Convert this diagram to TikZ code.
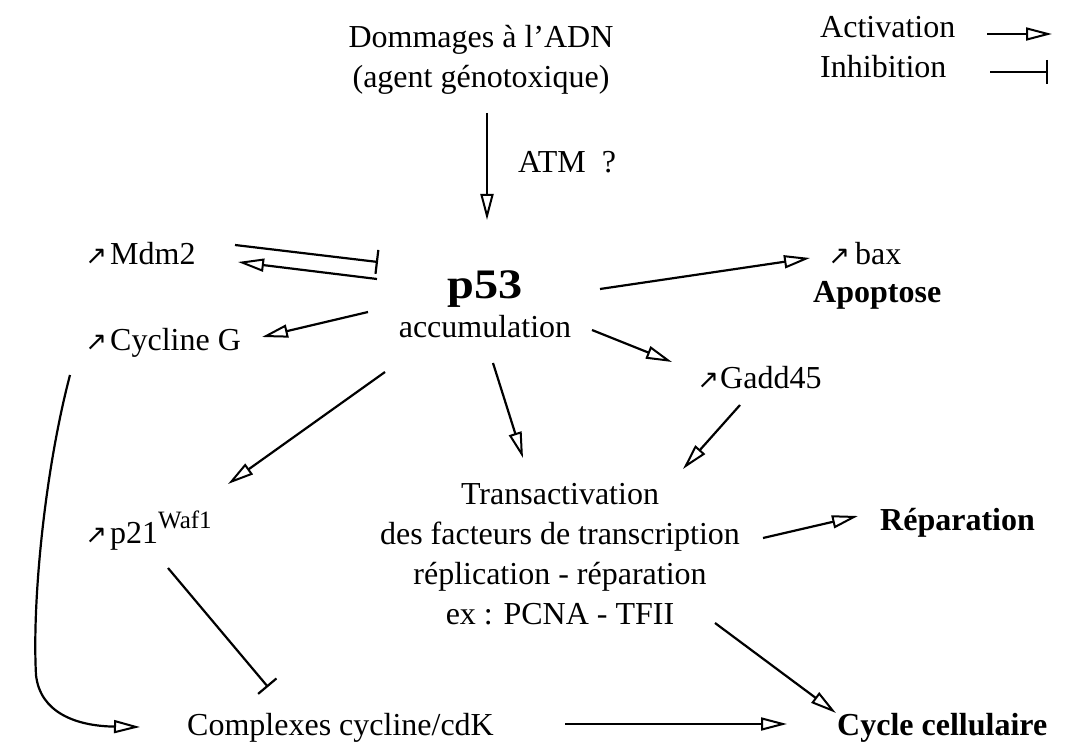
\documentclass[tikz,border=0pt]{standalone}
\usepackage{fontspec}
\usepackage{graphicx}
\setmainfont{Liberation Serif}
\newfontfamily\dejavu{DejaVu Sans}
\usetikzlibrary{arrows.meta}
\newcommand\myne{{\dejavu\fontsize{26}{26}\selectfont ↗}}
\begin{document}
\begin{tikzpicture}[x=1pt,y=-1pt,
  every node/.style={inner sep=0pt, font=\fontsize{32}{40}\selectfont},
  act/.style={line width=2.2pt, -{Triangle[open,length=26pt,width=13pt,line width=2pt]}},
  inh/.style={line width=2.2pt, -{Bar[width=24pt,line width=2.2pt]}},
  bold/.style={font=\fontsize{32}{40}\selectfont\bfseries}]
\useasboundingbox (0,0) rectangle (1067,751);
\fill[white] (0,0) rectangle (1067,751);

% nodes (multi-line nodes: base = baseline of last line)
\node[anchor=base, align=center] (dna) at (481,88) {Dommages à l’ADN\\(agent génotoxique)};
\node[anchor=base west] (atm) at (518,173) {ATM\ \ ?};
\node[anchor=base west] (leg1) at (820,38) {Activation};
\node[anchor=base west] (leg2) at (820,78) {Inhibition};
\node[anchor=base] (p53) at (485,298) {\fontsize{42}{42}\selectfont\bfseries\scalebox{1.15}[1]{p53}};
\node[anchor=base] (acc) at (485,337) {accumulation};
\node[anchor=base west] (mdm) at (110,264) {\llap{\myne\hspace{3pt}}Mdm2};
\node[anchor=base west] (cyg) at (110,350) {\llap{\myne\hspace{3pt}}Cycline G};
\node[anchor=base west] (p21) at (110,543) {\llap{\myne\hspace{3pt}}p21\raisebox{15pt}{\fontsize{25}{25}\selectfont Waf1}};
\node[anchor=base west] (gadd) at (720,388) {\llap{\myne\hspace{1pt}}Gadd45};
\node[anchor=base west] (bax) at (855,265) {\llap{\myne\hspace{5pt}}bax};
\node[anchor=base west, bold] (apo) at (813,302) {Apoptose};
\node[anchor=base, align=center] (trans) at (560,624) {Transactivation\\des facteurs de transcription\\réplication - réparation\\ex : PCNA - TFII};
\node[anchor=base west, bold] (rep) at (880,530) {Réparation};
\node[anchor=base west] (cplx) at (187,735) {Complexes cycline/cdK};
\node[anchor=base west, bold] (cyc) at (837,735) {Cycle cellulaire};

% connector end points
\coordinate (leg1-s) at (987,34);   \coordinate (leg1-e) at (1052,34);
\coordinate (leg2-s) at (990,72);   \coordinate (leg2-e) at (1048,72);
\coordinate (dna-out) at (487,113); \coordinate (p53-in) at (487,220);
\coordinate (mdm-out) at (235,245); \coordinate (p53-bar) at (378,262);
\coordinate (p53-mdm) at (377,279); \coordinate (mdm-in) at (238,262);
\coordinate (p53-cyg) at (368,312); \coordinate (cyg-in) at (262,337);
\coordinate (p53-bax) at (600,289); \coordinate (bax-in) at (810,258);
\coordinate (p53-gadd) at (592,330); \coordinate (gadd-in) at (672,362);
\coordinate (p53-p21) at (385,372); \coordinate (p21-in) at (228,484);
\coordinate (p53-trans) at (493,363); \coordinate (trans-in1) at (523,458);
\coordinate (gadd-out) at (740,405); \coordinate (trans-in2) at (683,469);
\coordinate (trans-rep) at (763,538); \coordinate (rep-in) at (858,516);
\coordinate (trans-cyc) at (715,623); \coordinate (cyc-in1) at (836,713);
\coordinate (p21-out) at (168,568); \coordinate (cplx-bar) at (268,687);
\coordinate (cplx-out) at (565,724); \coordinate (cyc-in2) at (787,724);
\coordinate (cyg-out) at (70,375);  \coordinate (cyg-mid) at (36,675);
\coordinate (cplx-in) at (140,727);

% legend
\draw[act] (leg1-s) -- (leg1-e);
\draw[inh] (leg2-s) -- (leg2-e);

% connectors
\draw[act] (dna-out) -- (p53-in);
\draw[inh] (mdm-out) -- (p53-bar);
\draw[act] (p53-mdm) -- (mdm-in);
\draw[act] (p53-cyg) -- (cyg-in);
\draw[act] (p53-bax) -- (bax-in);
\draw[act] (p53-gadd) -- (gadd-in);
\draw[act] (p53-p21) -- (p21-in);
\draw[act] (p53-trans) -- (trans-in1);
\draw[act] (gadd-out) -- (trans-in2);
\draw[act] (trans-rep) -- (rep-in);
\draw[act] (trans-cyc) -- (cyc-in1);
\draw[inh] (p21-out) -- (cplx-bar);
\draw[act] (cplx-out) -- (cyc-in2);
\draw[act] (cyg-out) .. controls (45,470) and (32,600) .. (cyg-mid)
   .. controls (40,712) and (75,726) .. (cplx-in);
\end{tikzpicture}
\end{document}
